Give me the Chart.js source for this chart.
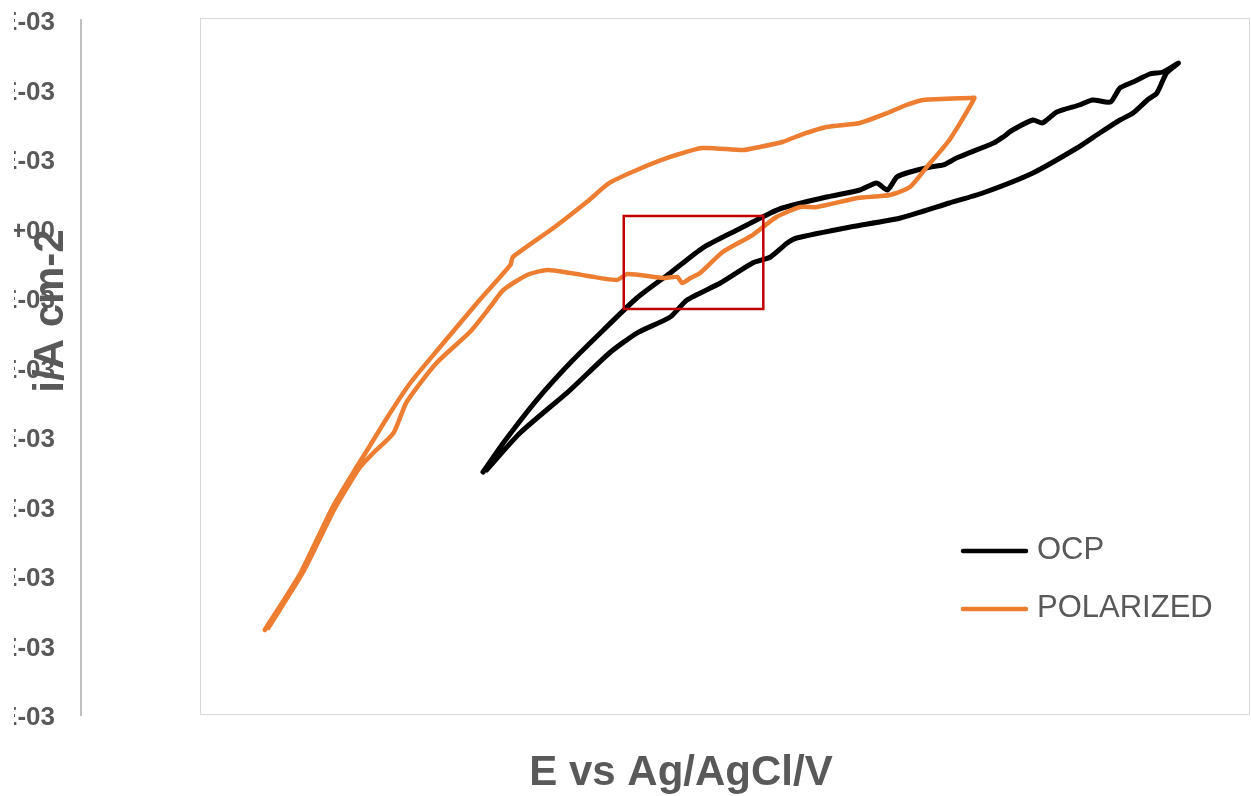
<!DOCTYPE html>
<html>
<head>
<meta charset="utf-8">
<script src="https://cdn.jsdelivr.net/npm/chart.js@4.4.1/dist/chart.umd.min.js"></script>
<style>
html,body{margin:0;padding:0;background:#ffffff;overflow:hidden}
canvas{display:block}
</style>
</head>
<body>
<canvas id="c" width="1251" height="796"></canvas>
<script>
// ---------- data ----------
const seriesNames = ['OCP', 'POLARIZED'];
const seriesColors = ['#000000', '#ED7D31'];
const xTitle = 'E vs Ag/AgCl/V';
const yTitle = 'i/A cm-2';
const yTickValues = [0.003, 0.002, 0.001, 0, -0.001, -0.002, -0.003, -0.004, -0.005, -0.006, -0.007];

// OCP: E (V) and i (mA cm-2)
const ocpE = [0.237,0.254,0.282,0.310,0.338,0.366,0.394,0.421,0.450,0.478,0.488,0.525,0.553,0.567,0.576,0.584,0.595,0.612,0.623,0.634,0.665,0.673,0.681,0.698,0.706,0.718,0.737,0.748,0.763,0.771,0.782,0.796,0.807,0.820,
              0.810,0.802,0.794,0.782,0.771,0.754,0.735,0.698,0.656,0.628,0.587,0.545,0.500,0.492,0.478,0.463,0.436,0.408,0.394,0.366,0.343,0.310,0.268,0.240];
const ocpI = [-3.504,-3.086,-2.468,-1.935,-1.460,-1.000,-0.640,-0.281,-0.022,0.223,0.295,0.453,0.554,0.655,0.554,0.741,0.813,0.885,0.914,1.014,1.230,1.317,1.417,1.561,1.518,1.676,1.777,1.849,1.820,2.022,2.108,2.223,2.252,2.381,
              2.237,1.950,1.849,1.662,1.561,1.374,1.158,0.799,0.511,0.367,0.151,0.022,-0.137,-0.209,-0.410,-0.496,-0.784,-1.029,-1.273,-1.504,-1.791,-2.324,-2.942,-3.475];

// POLARIZED: E (V) and i (mA cm-2)
const polE = [0.054,0.084,0.111,0.131,0.140,0.157,0.176,0.201,0.232,0.260,0.262,0.296,0.324,0.343,0.366,0.394,0.421,0.455,0.469,0.488,0.503,0.525,0.553,0.578,0.592,0.606,0.645,0.649,
              0.628,0.609,0.595,0.578,0.551,0.517,0.503,0.483,0.463,0.438,0.419,0.411,0.404,0.400,0.388,0.358,0.349,0.310,0.291,0.274,0.254,0.243,0.226,0.198,0.173,0.162,0.145,0.134,0.113,0.086,0.057];
const polI = [-5.777,-4.957,-4.007,-3.432,-3.187,-2.712,-2.223,-1.705,-1.072,-0.525,-0.410,0.007,0.381,0.655,0.842,1.029,1.158,1.129,1.173,1.245,1.345,1.460,1.518,1.676,1.777,1.849,1.878,1.878,
              1.273,0.885,0.597,0.482,0.439,0.309,0.309,0.165,-0.094,-0.338,-0.640,-0.712,-0.784,-0.698,-0.712,-0.655,-0.741,-0.640,-0.597,-0.669,-0.885,-1.129,-1.489,-1.935,-2.496,-2.942,-3.230,-3.432,-4.020,-4.950,-5.748];

// highlighted region (red box) in data units: [E min, E max], [i min, i max] (mA cm-2)
const boxE = [0.355, 0.472];
const boxI = [-1.158, 0.180];
// plot frame left edge (V)
const frameE = 0.0;
const mA = 1e-3;

// ---------- helpers ----------
const FONT = "'Liberation Sans', Arial, Helvetica, sans-serif";
const GREY = '#595959';

function fmtExp(v) {
  if (Math.abs(v) < 1e-12) v = 0;
  const s = v.toExponential(1);
  const parts = s.split('e');
  const e = parseInt(parts[1], 10);
  return parts[0] + 'E' + (e < 0 ? '-' : '+') + String(Math.abs(e)).padStart(2, '0');
}
function zip(xs, ys) { return xs.map((x, i) => ({ x: x, y: ys[i] * mA })); }

const decorPlugin = {
  id: 'decor',
  beforeDraw(chart) {
    // the source figure is cropped a little on the left
    const { ctx, width, height } = chart;
    ctx.save();
    ctx.beginPath();
    ctx.rect(14, 0, width - 14, height);
    ctx.clip();
  },
  beforeDatasetsDraw(chart) {
    const { ctx, chartArea, scales } = chart;
    const left = Math.round(scales.x.getPixelForValue(frameE));
    ctx.save();
    ctx.strokeStyle = '#D9D9D9';
    ctx.lineWidth = 1;
    ctx.strokeRect(left + 0.5, chartArea.top - 1.5, chartArea.right - left - 1, chartArea.bottom - chartArea.top + 1);
    ctx.restore();
  },
  afterDatasetsDraw(chart) {
    const { ctx, scales } = chart;
    const x0 = scales.x.getPixelForValue(boxE[0]);
    const x1 = scales.x.getPixelForValue(boxE[1]);
    const y0 = scales.y.getPixelForValue(boxI[1] * mA);
    const y1 = scales.y.getPixelForValue(boxI[0] * mA);
    ctx.save();
    ctx.strokeStyle = '#C00000';
    ctx.lineWidth = 2.5;
    ctx.strokeRect(x0, y0, x1 - x0, y1 - y0);
    ctx.restore();
  },
  afterDraw(chart) {
    const { ctx, chartArea } = chart;
    ctx.save();
    // axis titles
    ctx.fillStyle = GREY;
    ctx.font = 'bold 42px ' + FONT;
    ctx.textAlign = 'center';
    ctx.textBaseline = 'alphabetic';
    ctx.fillText(xTitle, 681, chartArea.bottom + 70);
    ctx.save();
    ctx.translate(63, chartArea.top + 291);
    ctx.rotate(-Math.PI / 2);
    ctx.fillText(yTitle, 0, 0);
    ctx.restore();
    // legend (inside plot, bottom right)
    ctx.font = '31px ' + FONT;
    ctx.textAlign = 'left';
    chart.data.datasets.forEach((ds, i) => {
      const ly = chartArea.bottom - 164 + i * 58;
      ctx.strokeStyle = ds.borderColor;
      ctx.lineWidth = 4.5;
      ctx.lineCap = 'round';
      ctx.beginPath();
      ctx.moveTo(chartArea.right - 287, ly);
      ctx.lineTo(chartArea.right - 224, ly);
      ctx.stroke();
      ctx.fillStyle = GREY;
      ctx.fillText(ds.label, chartArea.right - 213, ly + 8);
    });
    ctx.restore();
    ctx.restore(); // end of left crop
  }
};

const datasets = [
  { label: seriesNames[0], data: zip(ocpE, ocpI), borderColor: seriesColors[0], backgroundColor: seriesColors[0],
    borderWidth: 5, order: 1 },
  { label: seriesNames[1], data: zip(polE, polI), borderColor: seriesColors[1], backgroundColor: seriesColors[1],
    borderWidth: 4.5, order: 0 }
].map(d => Object.assign(d, { showLine: true, pointRadius: 0, pointHoverRadius: 0, tension: 0.2,
  borderCapStyle: 'round', borderJoinStyle: 'round', fill: false }));

new Chart(document.getElementById('c').getContext('2d'), {
  type: 'scatter',
  data: { datasets: datasets },
  options: {
    responsive: false,
    animation: false,
    devicePixelRatio: 1,
    layout: { padding: { top: 20, right: 1, bottom: 81, left: 0 } },
    plugins: { legend: { display: false }, tooltip: { enabled: false } },
    scales: {
      x: { type: 'linear', min: -0.1, max: 0.88, display: false },
      y: {
        type: 'linear', min: -0.007, max: 0.003,
        afterBuildTicks: (s) => { s.ticks = yTickValues.map(v => ({ value: v })); },
        afterFit: (s) => { s.width = 81; s.paddingTop = 0; s.paddingBottom = 0; },
        grid: { display: false, drawTicks: false },
        border: { display: true, color: '#BFBFBF', width: 2 },
        ticks: {
          padding: 26, labelOffset: 3, color: GREY,
          font: { family: FONT, size: 26, weight: 'bold' },
          callback: (v) => fmtExp(v)
        }
      }
    }
  },
  plugins: [decorPlugin]
});
</script>
</body>
</html>
